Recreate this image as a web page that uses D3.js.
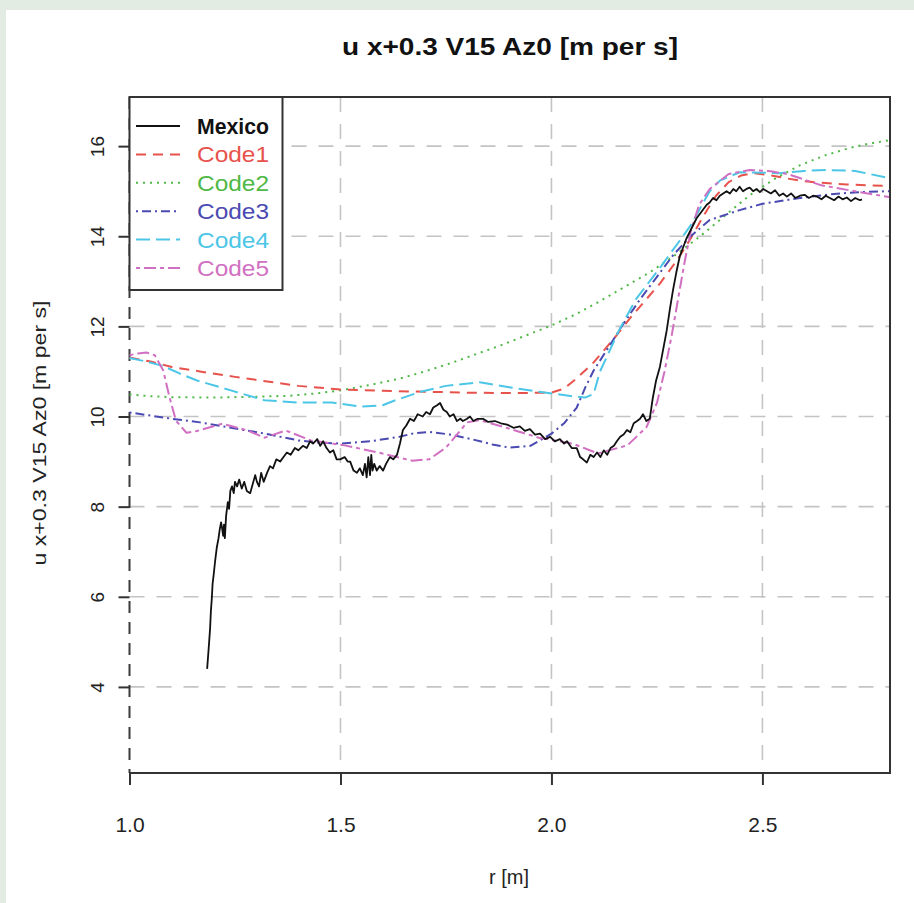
<!DOCTYPE html>
<html>
<head>
<meta charset="utf-8">
<script src="https://cdn.jsdelivr.net/npm/d3@7/dist/d3.min.js"></script>
<style>
  html, body { margin: 0; padding: 0; background: #e3ece2; }
  svg { display: block; }
  text { font-family: "Liberation Sans", Arial, Helvetica, sans-serif; }
</style>
</head>
<body>
<svg id="chart" width="914" height="903"></svg>
<script>
// ---------------- DATA ----------------
const titleText = "u x+0.3 V15 Az0 [m per s]";
const xLabel = "r [m]";
const yLabel = "u x+0.3 V15 Az0 [m per s]";
const xTicks = [1.0, 1.5, 2.0, 2.5];
const yTicks = [4, 6, 8, 10, 12, 14, 16];
const seriesNames = ["Mexico", "Code1", "Code2", "Code3", "Code4", "Code5"];

const mexico = [
  [1.184,4.40],[1.188,4.90],[1.191,5.30],[1.193,5.70],[1.195,5.95],[1.197,6.30],[1.199,6.45],
  [1.203,6.80],[1.207,7.10],[1.211,7.30],[1.214,7.50],[1.217,7.65],[1.219,7.55],[1.222,7.35],
  [1.224,7.60],[1.226,7.30],[1.229,7.80],[1.233,8.10],[1.236,7.95],[1.239,8.35],[1.243,8.45],
  [1.247,8.30],[1.250,8.55],[1.255,8.45],[1.260,8.60],[1.266,8.40],[1.272,8.55],[1.278,8.35],
  [1.286,8.30],[1.292,8.50],[1.298,8.70],[1.302,8.55],[1.307,8.45],[1.312,8.75],[1.318,8.55],
  [1.326,8.75],[1.333,8.90],[1.340,8.85],[1.348,9.05],[1.357,9.00],[1.365,9.10],[1.373,9.20],
  [1.382,9.15],[1.392,9.30],[1.400,9.25],[1.411,9.35],[1.420,9.30],[1.428,9.45],[1.435,9.40],
  [1.445,9.50],[1.452,9.35],[1.459,9.45],[1.467,9.30],[1.475,9.20],[1.483,9.25],[1.491,9.05],
  [1.499,9.05],[1.510,9.10],[1.517,9.00],[1.523,9.00],[1.531,8.80],[1.539,8.75],[1.546,8.85],
  [1.553,8.70],[1.558,8.95],[1.562,8.65],[1.566,9.10],[1.570,8.70],[1.573,9.15],[1.576,8.80],
  [1.580,8.95],[1.586,8.80],[1.593,8.90],[1.601,8.80],[1.608,8.95],[1.617,9.10],[1.625,9.05],
  [1.634,9.15],[1.641,9.40],[1.648,9.70],[1.656,9.80],[1.665,9.95],[1.674,9.90],[1.683,10.05],
  [1.695,10.00],[1.703,10.10],[1.712,10.05],[1.720,10.20],[1.729,10.25],[1.736,10.30],[1.744,10.15],
  [1.752,10.10],[1.759,10.00],[1.768,10.05],[1.776,9.90],[1.784,9.95],[1.790,9.90],[1.800,9.95],
  [1.807,10.00],[1.815,9.90],[1.825,9.95],[1.838,9.95],[1.850,9.88],[1.866,9.90],[1.880,9.85],
  [1.895,9.82],[1.910,9.75],[1.925,9.78],[1.937,9.68],[1.949,9.72],[1.961,9.60],[1.973,9.62],
  [1.985,9.50],[1.997,9.55],[2.008,9.45],[2.020,9.50],[2.030,9.40],[2.037,9.45],[2.048,9.30],
  [2.060,9.30],[2.068,9.10],[2.075,9.05],[2.084,8.98],[2.092,9.15],[2.100,9.10],[2.108,9.20],
  [2.116,9.10],[2.124,9.25],[2.132,9.15],[2.140,9.30],[2.148,9.35],[2.155,9.45],[2.163,9.55],
  [2.171,9.60],[2.179,9.70],[2.187,9.65],[2.195,9.85],[2.203,9.90],[2.210,9.95],[2.217,10.05],
  [2.225,9.90],[2.233,9.95],[2.240,10.40],[2.248,10.80],[2.257,11.10],[2.265,11.50],[2.273,11.90],
  [2.281,12.40],[2.288,12.80],[2.296,13.20],[2.304,13.55],[2.312,13.75],[2.320,13.95],[2.328,14.10],
  [2.336,14.25],[2.344,14.40],[2.352,14.50],[2.360,14.60],[2.368,14.70],[2.375,14.75],[2.383,14.85],
  [2.391,14.80],[2.399,14.90],[2.407,14.95],[2.415,15.00],[2.423,14.95],[2.431,15.05],[2.438,15.00],
  [2.446,15.10],[2.454,15.00],[2.462,15.05],[2.470,15.08],[2.478,15.00],[2.486,15.05],[2.494,14.98],
  [2.502,15.05],[2.511,15.00],[2.520,14.95],[2.530,15.02],[2.540,14.90],[2.549,14.95],[2.558,14.88],
  [2.568,14.95],[2.578,14.85],[2.589,14.90],[2.600,14.92],[2.610,14.85],[2.620,14.90],[2.629,14.88],
  [2.640,14.82],[2.650,14.90],[2.660,14.85],[2.670,14.80],[2.680,14.88],[2.690,14.82],[2.700,14.86],
  [2.710,14.78],[2.720,14.85],[2.731,14.80],[2.736,14.82]
];

const code1 = [
  [1.00,11.31],[1.05,11.22],[1.10,11.10],[1.167,11.00],[1.25,10.88],[1.31,10.80],[1.40,10.68],
  [1.50,10.60],[1.60,10.57],[1.70,10.55],[1.80,10.53],[1.90,10.52],[2.00,10.53],[2.03,10.62],
  [2.06,10.85],[2.10,11.20],[2.15,11.75],[2.186,12.18],[2.22,12.55],[2.257,12.95],[2.30,13.50],
  [2.33,13.95],[2.36,14.45],[2.39,14.90],[2.42,15.20],[2.45,15.35],[2.48,15.40],[2.52,15.35],
  [2.56,15.28],[2.60,15.22],[2.65,15.18],[2.70,15.15],[2.75,15.13],[2.80,15.12]
];

const code2 = [
  [1.00,10.49],[1.05,10.45],[1.10,10.43],[1.20,10.42],[1.30,10.44],[1.38,10.46],[1.45,10.52],
  [1.50,10.58],[1.57,10.70],[1.64,10.84],[1.70,11.00],[1.76,11.18],[1.82,11.38],[1.88,11.58],
  [1.94,11.80],[2.00,12.02],[2.06,12.28],[2.115,12.56],[2.17,12.86],[2.233,13.20],[2.29,13.56],
  [2.35,13.98],[2.41,14.45],[2.47,14.91],[2.53,15.28],[2.59,15.58],[2.65,15.80],[2.707,15.96],
  [2.75,16.05],[2.80,16.13]
];

const code3 = [
  [1.00,10.09],[1.05,10.02],[1.10,9.95],[1.167,9.87],[1.24,9.75],[1.31,9.64],[1.40,9.47],
  [1.45,9.42],[1.50,9.40],[1.57,9.45],[1.64,9.55],[1.67,9.62],[1.71,9.66],[1.76,9.60],
  [1.81,9.50],[1.86,9.38],[1.90,9.31],[1.95,9.35],[2.00,9.62],[2.03,9.85],[2.06,10.20],
  [2.08,10.64],[2.10,11.02],[2.135,11.53],[2.17,12.05],[2.21,12.60],[2.25,13.10],[2.29,13.60],
  [2.33,14.00],[2.375,14.36],[2.446,14.58],[2.50,14.72],[2.589,14.85],[2.66,14.93],[2.73,14.98],
  [2.80,15.00]
];

const code4 = [
  [1.00,11.30],[1.04,11.22],[1.08,11.12],[1.12,10.95],[1.16,10.80],[1.24,10.58],[1.32,10.36],
  [1.40,10.31],[1.48,10.31],[1.55,10.22],[1.60,10.25],[1.63,10.36],[1.69,10.55],[1.75,10.68],
  [1.83,10.76],[1.90,10.65],[1.97,10.55],[2.05,10.45],[2.08,10.42],[2.10,10.50],[2.115,11.00],
  [2.135,11.40],[2.16,11.91],[2.20,12.60],[2.257,13.30],[2.30,13.85],[2.33,14.24],[2.375,15.00],
  [2.40,15.24],[2.446,15.42],[2.54,15.40],[2.60,15.45],[2.65,15.47],[2.72,15.45],[2.80,15.29]
];

const code5 = [
  [1.00,11.36],[1.02,11.40],[1.04,11.42],[1.06,11.36],[1.08,11.02],[1.095,10.42],[1.11,9.91],
  [1.135,9.64],[1.16,9.68],[1.22,9.84],[1.28,9.69],[1.32,9.53],[1.37,9.69],[1.43,9.47],
  [1.51,9.36],[1.59,9.20],[1.67,9.02],[1.71,9.05],[1.75,9.31],[1.77,9.53],[1.80,9.87],
  [1.83,9.92],[1.89,9.76],[1.97,9.53],[2.05,9.40],[2.11,9.18],[2.18,9.36],[2.225,9.76],
  [2.25,10.30],[2.268,11.00],[2.285,11.80],[2.30,12.60],[2.315,13.40],[2.33,14.10],[2.35,14.70],
  [2.375,15.05],[2.42,15.38],[2.47,15.47],[2.52,15.44],[2.56,15.38],[2.64,15.13],[2.73,14.98],
  [2.80,14.87]
];

// ---------------- STYLE ----------------
const seriesData = [mexico, code1, code2, code3, code4, code5];
const colors = ["#111111", "#e8524c", "#4fb846", "#4a4ab2", "#4cc6e6", "#d170c2"];
const dashes = [null, "10,7", "2,5", "2,4,9,4", "14,6", "4,4,12,4"];
const widths = [1.8, 2, 2, 2, 2, 2];

// ---------------- CHART ----------------
const svg = d3.select("#chart");
svg.append("rect").attr("x", 6).attr("y", 10).attr("width", 908).attr("height", 893).attr("fill", "#ffffff");

const pL = 129.5, pR = 890, pT = 97, pB = 773;
const x = d3.scaleLinear().domain([1.0, 2.8]).range([pL, pR - 1]);
const y = d3.scaleLinear().domain([2.09, 17.09]).range([pB, pT]);

// grid
const grid = svg.append("g");
grid.selectAll("line.h").data(yTicks).enter().append("line")
  .attr("x1", pL).attr("x2", pR).attr("y1", d => y(d)).attr("y2", d => y(d))
  .attr("stroke", "#c4c4c4").attr("stroke-width", 1.6).attr("stroke-dasharray", "15,12");
grid.selectAll("line.v").data(xTicks.filter(d => d > 1.0)).enter().append("line")
  .attr("x1", d => x(d)).attr("x2", d => x(d)).attr("y1", pT).attr("y2", pB)
  .attr("stroke", "#c4c4c4").attr("stroke-width", 1.6).attr("stroke-dasharray", "15,12");

// left edge (dashed, dark)
svg.append("line").attr("x1", pL).attr("x2", pL).attr("y1", pT).attr("y2", pB)
  .attr("stroke", "#3a3a3a").attr("stroke-width", 2).attr("stroke-dasharray", "12,9");

// lines
const line = d3.line().x(d => x(d[0])).y(d => y(d[1]));
const order = [2, 1, 3, 4, 5, 0];
order.forEach(i => {
  svg.append("path").datum(seriesData[i]).attr("d", line)
    .attr("fill", "none").attr("stroke", colors[i]).attr("stroke-width", widths[i])
    .attr("stroke-dasharray", dashes[i]).attr("stroke-linejoin", "round");
});

// frame (top, right, bottom)
svg.append("path")
  .attr("d", `M${pL},${pT} L${pR},${pT} L${pR},${pB} L${pL},${pB}`)
  .attr("fill", "none").attr("stroke", "#333333").attr("stroke-width", 2);

// axes
const xAxis = svg.append("g").attr("transform", `translate(0,${pB})`)
  .call(d3.axisBottom(x).tickValues(xTicks).tickFormat(d3.format(".1f")).tickSize(12).tickPadding(32));
xAxis.select(".domain").remove();
xAxis.selectAll(".tick line").attr("stroke", "#333").attr("stroke-width", 2);
xAxis.selectAll(".tick text").attr("font-size", 21).attr("fill", "#222")
  .attr("font-family", "Liberation Sans, Arial, sans-serif");

const yAxis = svg.append("g").attr("transform", `translate(${pL},0)`)
  .call(d3.axisLeft(y).tickValues(yTicks).tickFormat(d3.format("d")).tickSize(11));
yAxis.select(".domain").remove();
yAxis.selectAll(".tick line").attr("stroke", "#333").attr("stroke-width", 2);
yAxis.selectAll(".tick text")
  .attr("font-size", 19).attr("fill", "#222")
  .attr("font-family", "Liberation Sans, Arial, sans-serif")
  .attr("text-anchor", "middle").attr("dy", null)
  .attr("x", null)
  .attr("transform", "translate(-26,0) rotate(-90)");

// title & labels
svg.append("text").attr("x", 510).attr("y", 55).attr("text-anchor", "middle")
  .attr("font-size", 23).attr("font-weight", "bold").attr("fill", "#111")
  .attr("textLength", 336).attr("lengthAdjust", "spacingAndGlyphs")
  .text(titleText);
svg.append("text").attr("x", 509).attr("y", 884).attr("text-anchor", "middle")
  .attr("font-size", 20).attr("fill", "#222").text(xLabel);
svg.append("text").attr("transform", "translate(46,433) rotate(-90)").attr("text-anchor", "middle")
  .attr("font-size", 18).attr("fill", "#222")
  .attr("textLength", 265).attr("lengthAdjust", "spacingAndGlyphs")
  .text(yLabel);

// legend
const lg = svg.append("g");
lg.append("rect").attr("x", pL).attr("y", pT).attr("width", 153).attr("height", 193)
  .attr("fill", "#ffffff").attr("stroke", "#333").attr("stroke-width", 2);
const rowY = d3.scaleLinear().domain([0, 5]).range([126, 268]);
seriesNames.forEach((name, i) => {
  lg.append("line").attr("x1", 136).attr("x2", 180).attr("y1", rowY(i)).attr("y2", rowY(i))
    .attr("stroke", colors[i]).attr("stroke-width", widths[i]).attr("stroke-dasharray", dashes[i]);
  lg.append("text").attr("x", 197).attr("y", rowY(i)).attr("dy", "0.36em")
    .attr("font-size", 22).attr("fill", colors[i])
    .attr("font-weight", i === 0 ? "bold" : "normal")
    .attr("textLength", 72).attr("lengthAdjust", "spacingAndGlyphs")
    .text(name);
});
</script>
</body>
</html>
